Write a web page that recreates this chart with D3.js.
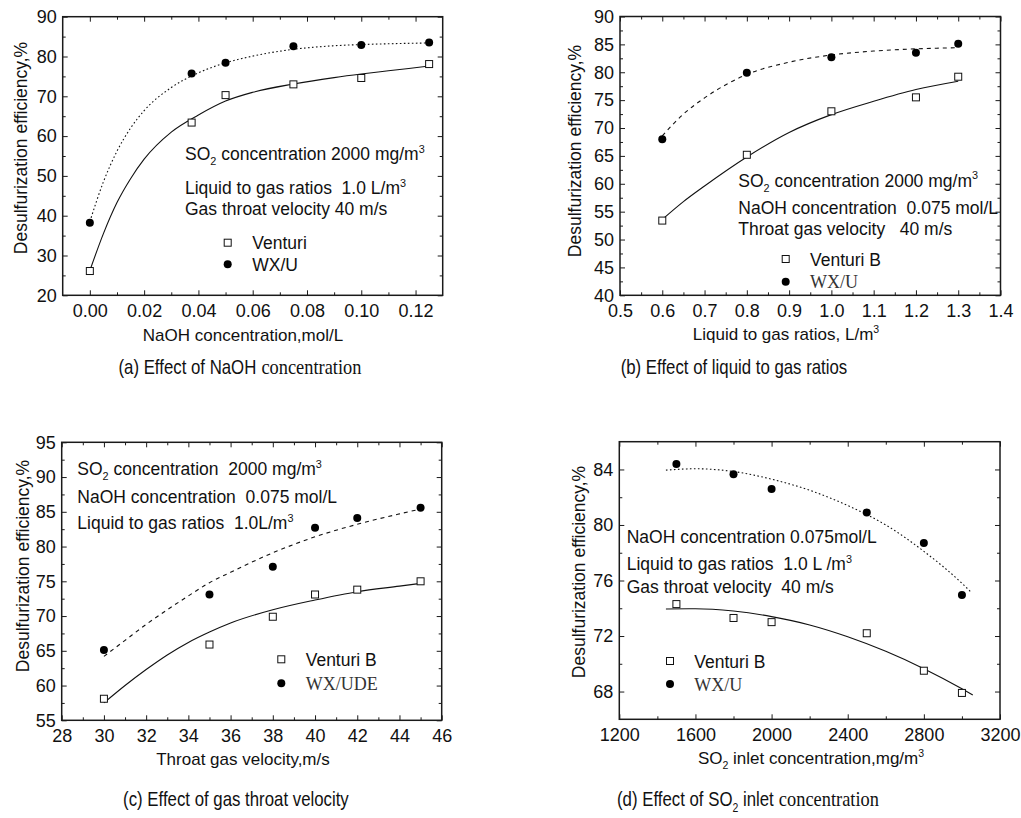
<!DOCTYPE html>
<html><head><meta charset="utf-8">
<script src="https://cdn.jsdelivr.net/npm/d3@7"></script>
<style>body{margin:0;background:#fff}svg{display:block}text{white-space:pre}</style>
</head><body><svg id="c" width="1021" height="818"></svg>
<script>
// ---------- DATA ----------
// (a) NaOH concentration
const aX = [0, 0.0375, 0.05, 0.075, 0.1, 0.125];
const aVenturi = [26.1, 63.4, 70.3, 73.0, 74.6, 78.1];
const aWX = [38.2, 75.7, 78.4, 82.6, 82.9, 83.5];
const aFitX = [0, 0.005, 0.01, 0.015, 0.02, 0.03, 0.04, 0.05, 0.06, 0.075, 0.09, 0.1, 0.11, 0.125];
const aVenturiFit = [26.2, 35.5, 43.3, 49.3, 54.2, 61.0, 65.3, 68.8, 71.0, 73.1, 74.7, 75.6, 76.4, 77.6];
const aWXFit = [38.5, 48.5, 56.2, 62.0, 66.4, 72.2, 75.9, 78.4, 80.1, 81.8, 82.7, 83.0, 83.2, 83.4];
const aXTicks = [0, 0.02, 0.04, 0.06, 0.08, 0.10, 0.12];
const aXMinor = [0.01, 0.03, 0.05, 0.07, 0.09, 0.11];
const aYTicks = [20, 30, 40, 50, 60, 70, 80, 90];
const aYMinor = [25, 35, 45, 55, 65, 75, 85];

// (b) liquid to gas ratios
const bX = [0.6, 0.8, 1.0, 1.2, 1.3];
const bVenturi = [53.4, 65.2, 73.0, 75.5, 79.2];
const bWX = [68.0, 79.9, 82.7, 83.5, 85.1];
const bFitX = [0.6, 0.65, 0.7, 0.8, 0.9, 1.0, 1.1, 1.2, 1.3];
const bVenturiFit = [53.6, 56.8, 59.6, 64.8, 69.2, 72.4, 74.8, 76.9, 78.4];
const bWXFit = [68.6, 72.5, 75.4, 79.6, 81.8, 83.1, 83.8, 84.2, 84.4];
const bXTicks = [0.5, 0.6, 0.7, 0.8, 0.9, 1.0, 1.1, 1.2, 1.3, 1.4];
const bXMinor = [0.55, 0.65, 0.75, 0.85, 0.95, 1.05, 1.15, 1.25, 1.35];
const bYTicks = [40, 45, 50, 55, 60, 65, 70, 75, 80, 85, 90];
const bYMinor = [42.5, 47.5, 52.5, 57.5, 62.5, 67.5, 72.5, 77.5, 82.5, 87.5];

// (c) throat gas velocity
const cX = [30, 35, 38, 40, 42, 45];
const cVenturi = [58.1, 65.9, 69.9, 73.1, 73.8, 75.0];
const cWX = [65.1, 73.1, 77.1, 82.7, 84.1, 85.6];
const cFitX = [30, 31, 32, 33, 34, 35, 36, 38, 40, 42, 44, 45];
const cVenturiFit = [57.5, 60.0, 62.3, 64.4, 66.2, 67.7, 69.0, 70.9, 72.3, 73.5, 74.3, 74.7];
const cWXFit = [64.2, 66.5, 68.8, 70.9, 72.9, 74.8, 76.3, 79.1, 81.4, 83.2, 84.7, 85.4];
const cXTicks = [28, 30, 32, 34, 36, 38, 40, 42, 44, 46];
const cXMinor = [29, 31, 33, 35, 37, 39, 41, 43, 45];
const cYTicks = [55, 60, 65, 70, 75, 80, 85, 90, 95];
const cYMinor = [57.5, 62.5, 67.5, 72.5, 77.5, 82.5, 87.5, 92.5];

// (d) SO2 inlet concentration
const dX = [1500, 1800, 2000, 2500, 2800, 3000];
const dVenturi = [74.3, 73.3, 73.0, 72.2, 69.5, 67.9];
const dWX = [84.4, 83.65, 82.6, 80.9, 78.7, 74.95];
const dVenturiFitX = [1445, 1600, 1800, 2000, 2200, 2400, 2600, 2800, 3000, 3057];
const dVenturiFit = [73.95, 73.97, 73.8, 73.4, 72.8, 71.95, 70.9, 69.65, 68.2, 67.75];
const dWXFitX = [1445, 1600, 1800, 2000, 2200, 2400, 2600, 2800, 3000, 3045];
const dWXFit = [83.95, 84.05, 83.85, 83.3, 82.5, 81.4, 80.0, 78.1, 75.8, 75.2];
const dXTicks = [1200, 1600, 2000, 2400, 2800, 3200];
const dXMinor = [1400, 1800, 2200, 2600, 3000];
const dYTicks = [68, 72, 76, 80, 84];
const dYMinor = [70, 74, 78, 82];

// ---------- DRAW ----------
const SANS = "'Liberation Sans', Arial, sans-serif";
const SERIF = "'Liberation Serif', 'Times New Roman', serif";
const svg = d3.select('#c');
const zip = (xs, ys) => xs.map((v, i) => [v, ys[i]]);

function rich(g, x, y, parts, size, family, anchor) {
  const t = g.append('text').attr('x', x).attr('y', y)
    .attr('font-family', family).attr('font-size', size).attr('fill', '#111')
    .attr('text-anchor', anchor || 'start');
  let shift = 0;
  parts.forEach(p => {
    const s = typeof p === 'string' ? {t: p} : p;
    const target = s.sub ? size * 0.28 : s.sup ? -size * 0.42 : 0;
    const sp = t.append('tspan').text(s.t).attr('dy', target - shift);
    if (s.sub || s.sup) sp.attr('font-size', size * 0.62);
    shift = target;
  });
  return t;
}

// caption: condensed sans part followed by optional serif part, centred on cx
function caption(g, cx, y, sansParts, serifText) {
  const sSize = 20.5, sSq = 0.82, rSize = 20, rSq = 0.92, gap = 5;
  const g1 = g.append('g');
  const t1 = rich(g1, 0, 0, sansParts, sSize, SANS);
  const w1 = t1.node().getComputedTextLength() * sSq;
  let w2 = 0, g2 = null;
  if (serifText) {
    g2 = g.append('g');
    const t2 = rich(g2, 0, 0, [serifText], rSize, SERIF);
    w2 = t2.node().getComputedTextLength() * rSq + gap;
  }
  const x0 = cx - (w1 + w2) / 2;
  g1.attr('transform', `translate(${x0},${y}) scale(${sSq},1)`);
  if (g2) g2.attr('transform', `translate(${x0 + w1 + gap},${y}) scale(${rSq},1)`);
}

function panel(p) {
  const x = d3.scaleLinear().domain(p.xDomain).range([p.left, p.right]);
  const y = d3.scaleLinear().domain(p.yDomain).range([p.bottom, p.top]);
  const g = svg.append('g');

  const axisStyle = sel => {
    sel.select('.domain').remove();
    sel.selectAll('line').attr('stroke', '#1a1a1a').attr('stroke-width', 1);
    sel.selectAll('text').attr('font-family', SANS).attr('font-size', 18).attr('fill', '#111');
  };
  const fmt = d3.format(p.xFmt);
  g.append('g').attr('transform', `translate(0,${p.bottom})`)
    .call(d3.axisBottom(x).tickValues(p.xTicks).tickSize(-5).tickPadding(9).tickFormat(fmt)).call(axisStyle);
  g.append('g').attr('transform', `translate(0,${p.bottom})`)
    .call(d3.axisBottom(x).tickValues(p.xMinor).tickSize(-3).tickFormat('')).call(axisStyle);
  g.append('g').attr('transform', `translate(0,${p.top})`)
    .call(d3.axisTop(x).tickValues(p.xTicks).tickSize(-5).tickFormat('')).call(axisStyle);
  g.append('g').attr('transform', `translate(0,${p.top})`)
    .call(d3.axisTop(x).tickValues(p.xMinor).tickSize(-3).tickFormat('')).call(axisStyle);
  g.append('g').attr('transform', `translate(${p.left},0)`)
    .call(d3.axisLeft(y).tickValues(p.yTicks).tickSize(-5).tickPadding(6).tickFormat(d3.format('d'))).call(axisStyle);
  g.append('g').attr('transform', `translate(${p.left},0)`)
    .call(d3.axisLeft(y).tickValues(p.yMinor).tickSize(-3).tickFormat('')).call(axisStyle);
  g.append('g').attr('transform', `translate(${p.right},0)`)
    .call(d3.axisRight(y).tickValues(p.yTicks).tickSize(-5).tickFormat('')).call(axisStyle);
  g.append('g').attr('transform', `translate(${p.right},0)`)
    .call(d3.axisRight(y).tickValues(p.yMinor).tickSize(-3).tickFormat('')).call(axisStyle);

  g.append('rect').attr('x', p.left).attr('y', p.top)
    .attr('width', p.right - p.left).attr('height', p.bottom - p.top)
    .attr('fill', 'none').attr('stroke', '#1a1a1a').attr('stroke-width', 1.5);

  const line = d3.line().x(d => x(d[0])).y(d => y(d[1])).curve(d3.curveMonotoneX);
  g.append('path').datum(p.vFit).attr('d', line).attr('fill', 'none')
    .attr('stroke', '#111').attr('stroke-width', 1.1);
  g.append('path').datum(p.wFit).attr('d', line).attr('fill', 'none')
    .attr('stroke', '#111').attr('stroke-width', 1.1).attr('stroke-dasharray', p.dash);

  g.selectAll('rect.v').data(p.vPts).enter().append('rect').attr('class', 'v')
    .attr('x', d => x(d[0]) - 3.5).attr('y', d => y(d[1]) - 3.5)
    .attr('width', 7).attr('height', 7).attr('fill', '#fff').attr('stroke', '#111').attr('stroke-width', 1);
  g.selectAll('circle.w').data(p.wPts).enter().append('circle').attr('class', 'w')
    .attr('cx', d => x(d[0])).attr('cy', d => y(d[1])).attr('r', 4).attr('fill', '#000');

  // legend
  const L = p.legend;
  g.append('rect').attr('x', L.x - 3.5).attr('y', L.y1 - 3.5).attr('width', 7).attr('height', 7)
    .attr('fill', '#fff').attr('stroke', '#111');
  g.append('circle').attr('cx', L.x).attr('cy', L.y2).attr('r', 4).attr('fill', '#000');
  rich(g, L.tx, L.y1 + 6.5, [L.vName], 17.5, SANS);
  if (L.wSerif) rich(g, L.tx, L.y2 + 6.5, [L.wName], 18, SERIF).attr('fill', '#333');
  else rich(g, L.tx, L.y2 + 6.5, [L.wName], 17.5, SANS);

  // annotations
  p.notes.forEach(n => rich(g, p.noteX, n.y, n.parts, 17.5, SANS));

  // axis titles
  const yt = g.append('g').attr('transform', `translate(${p.yTitleX},${p.yTitleY}) rotate(-90)`);
  rich(yt, 0, 0, ['Desulfurization efficiency,%'], 17.5, SANS, 'middle');
  rich(g, p.xTitle.x, p.xTitle.y, p.xTitle.parts, 17, SANS, 'middle');

  // caption
  caption(g, p.cap.cx, p.cap.y, p.cap.sans, p.cap.serif);
}

const SO2 = ['SO', {t: '2', sub: true}];

panel({
  left: 62.7, right: 442.7, top: 16.7, bottom: 295.3,
  xDomain: [-0.01, 0.13], yDomain: [20, 90], xFmt: '.2f',
  xTicks: aXTicks, xMinor: aXMinor, yTicks: aYTicks, yMinor: aYMinor,
  vPts: zip(aX, aVenturi), wPts: zip(aX, aWX),
  vFit: zip(aFitX, aVenturiFit), wFit: zip(aFitX, aWXFit), dash: '1.6,2.4',
  legend: {x: 227.7, y1: 242.7, y2: 264.3, tx: 252.3, vName: 'Venturi', wName: 'WX/U', wSerif: false},
  noteX: 185,
  notes: [
    {y: 160, parts: [...SO2, ' concentration 2000 mg/m', {t: '3', sup: true}]},
    {y: 194, parts: ['Liquid to gas ratios  1.0 L/m', {t: '3', sup: true}]},
    {y: 215, parts: ['Gas throat velocity 40 m/s']}
  ],
  yTitleX: 27, yTitleY: 148,
  xTitle: {x: 243, y: 341, parts: ['NaOH concentration,mol/L']},
  cap: {cx: 240, y: 374, sans: ['(a) Effect of NaOH'], serif: 'concentration'}
});

panel({
  left: 620, right: 1000.5, top: 16.5, bottom: 295.3,
  xDomain: [0.5, 1.4], yDomain: [40, 90], xFmt: '.1f',
  xTicks: bXTicks, xMinor: bXMinor, yTicks: bYTicks, yMinor: bYMinor,
  vPts: zip(bX, bVenturi), wPts: zip(bX, bWX),
  vFit: zip(bFitX, bVenturiFit), wFit: zip(bFitX, bWXFit), dash: '4,4',
  legend: {x: 785.7, y1: 259, y2: 281.7, tx: 810, vName: 'Venturi B', wName: 'WX/U', wSerif: true},
  noteX: 738.3,
  notes: [
    {y: 186.7, parts: [...SO2, ' concentration 2000 mg/m', {t: '3', sup: true}]},
    {y: 214.3, parts: ['NaOH concentration  0.075 mol/L']},
    {y: 235, parts: ['Throat gas velocity   40 m/s']}
  ],
  yTitleX: 581, yTitleY: 151,
  xTitle: {x: 786, y: 340, parts: ['Liquid to gas ratios, L/m', {t: '3', sup: true}]},
  cap: {cx: 734, y: 374, sans: ['(b) Effect of liquid to gas ratios']}
});

panel({
  left: 61.7, right: 441.7, top: 442.3, bottom: 720.3,
  xDomain: [28, 46], yDomain: [55, 95], xFmt: 'd',
  xTicks: cXTicks, xMinor: cXMinor, yTicks: cYTicks, yMinor: cYMinor,
  vPts: zip(cX, cVenturi), wPts: zip(cX, cWX),
  vFit: zip(cFitX, cVenturiFit), wFit: zip(cFitX, cWXFit), dash: '4,4',
  legend: {x: 281.3, y1: 659.3, y2: 683.3, tx: 305.7, vName: 'Venturi B', wName: 'WX/UDE', wSerif: true},
  noteX: 77.3,
  notes: [
    {y: 475, parts: [...SO2, ' concentration  2000 mg/m', {t: '3', sup: true}]},
    {y: 502.7, parts: ['NaOH concentration  0.075 mol/L']},
    {y: 529.3, parts: ['Liquid to gas ratios  1.0L/m', {t: '3', sup: true}]}
  ],
  yTitleX: 29, yTitleY: 566,
  xTitle: {x: 243, y: 765, parts: ['Throat gas velocity,m/s']},
  cap: {cx: 236, y: 806, sans: ['(c) Effect of gas throat velocity']}
});

panel({
  left: 619.3, right: 1000, top: 441.7, bottom: 719.3,
  xDomain: [1200, 3200], yDomain: [66, 86], xFmt: 'd',
  xTicks: dXTicks, xMinor: dXMinor, yTicks: dYTicks, yMinor: dYMinor,
  vPts: zip(dX, dVenturi), wPts: zip(dX, dWX),
  vFit: zip(dVenturiFitX, dVenturiFit), wFit: zip(dWXFitX, dWXFit), dash: '1.6,2.4',
  legend: {x: 670, y1: 661, y2: 684, tx: 694.3, vName: 'Venturi B', wName: 'WX/U', wSerif: true},
  noteX: 626.7,
  notes: [
    {y: 542.7, parts: ['NaOH concentration 0.075mol/L']},
    {y: 570, parts: ['Liquid to gas ratios  1.0 L /m', {t: '3', sup: true}]},
    {y: 592.7, parts: ['Gas throat velocity  40 m/s']}
  ],
  yTitleX: 585, yTitleY: 572,
  xTitle: {x: 811, y: 764, parts: [...SO2, ' inlet concentration,mg/m', {t: '3', sup: true}]},
  cap: {cx: 748, y: 806, sans: ['(d) Effect of ', ...SO2, ' inlet'], serif: 'concentration'}
});
</script></body></html>
